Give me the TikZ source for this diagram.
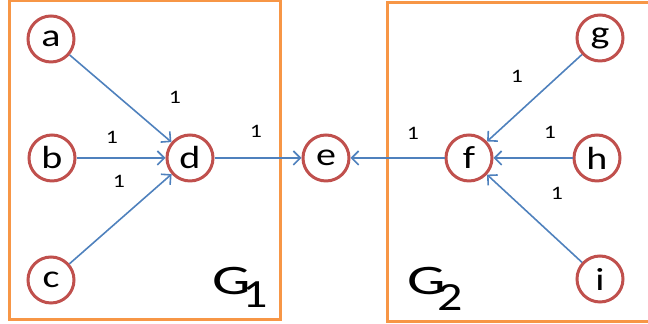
\documentclass[tikz,border=0pt]{standalone}
\usepackage{fontspec}
\setmainfont{Carlito}
\usepackage{xcolor}
\usepackage{graphicx}
\usepackage{tikz}
\usetikzlibrary{arrows.meta}

\definecolor{nodered}{HTML}{C0504D}
\definecolor{edgeblue}{HTML}{4F81BD}
\definecolor{boxorange}{HTML}{F79646}

% texte elargi horizontalement
\newcommand{\wide}[2][1.25]{\scalebox{#1}[1]{#2}}
\newcommand{\grp}[3]{%
    \wide[1.45]{G}\kern#3\raisebox{#2}{\fontsize{20}{20}\selectfont\wide{#1}}}

\begin{document}
\begin{tikzpicture}[
    x=0.5pt, y=-0.5pt,
    vertex/.style = {
        circle,
        draw=nodered,
        line width=1.5pt,
        minimum size=23pt,
        inner sep=0pt,
        fill=white,
        font=\fontsize{16}{16}\selectfont
    },
    edge/.style = {
        draw=edgeblue,
        line width=0.8pt,
        -{Straight Barb[length=3.5pt,width=7pt]}
    },
    weight/.style = {
        font=\fontsize{9.5}{10}\selectfont
    },
    groupbox/.style = {
        draw=boxorange,
        line width=1.5pt
    },
    grouplabel/.style = {
        font=\fontsize{21}{21}\selectfont,
        inner sep=0pt
    }
]
\useasboundingbox (0,0) rectangle (648,324);

% --- Groupes ---
\draw[groupbox] (9,1) rectangle (280,320);
\draw[groupbox] (387,3) rectangle (652,322);

% --- Sommets ---
\node[vertex] (a) at (51,39) {\wide{a}};
\node[vertex] (b) at (52,158) {\wide{b}};
\node[vertex] (c) at (51,280) {\wide{c}};
\node[vertex] (d) at (190,158) {\wide{d}};
\node[vertex] (e) at (326,158) {\wide{e}};
\node[vertex] (f) at (469,158) {\wide{f}};
\node[vertex] (g) at (600,38) {\wide{g}};
\node[vertex] (h) at (597,158) {\wide{h}};
\node[vertex] (i) at (600,279) {\wide{i}};

% --- Arcs ---
\draw[edge] (a) -- (d);
\draw[edge] (b) -- (d);
\draw[edge] (c) -- (d);
\draw[edge] (d) -- (e);
\draw[edge] (f) -- (e);
\draw[edge] (g) -- (f);
\draw[edge] (h) -- (f);
\draw[edge] (i) -- (f);

% --- Poids ---
\node[weight] (wad) at (175,97) {\wide{1}};
\node[weight] (wbd) at (112,137) {\wide{1}};
\node[weight] (wcd) at (119,181) {\wide{1}};
\node[weight] (wde) at (256,131) {\wide{1}};
\node[weight] (wfe) at (413,133) {\wide{1}};
\node[weight] (wgf) at (517,76) {\wide{1}};
\node[weight] (whf) at (550,132) {\wide{1}};
\node[weight] (wif) at (557,193) {\wide{1}};

% --- Etiquettes des groupes ---
\node[grouplabel, anchor=base west] (G1) at (212,295) {\grp{1}{-6.5pt}{-4pt}};
\node[grouplabel, anchor=base west] (G2) at (407,295) {\grp{2}{-8pt}{-4pt}};

\end{tikzpicture}
\end{document}
